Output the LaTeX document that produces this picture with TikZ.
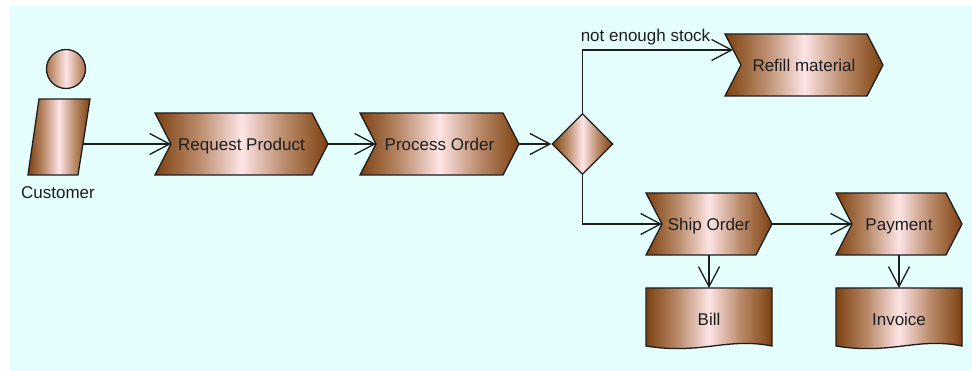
\documentclass[tikz,border=0pt]{standalone}
\usepackage{fontspec}
\setmainfont{Liberation Sans}
\usetikzlibrary{arrows.meta,shapes.geometric}
\definecolor{bgcol}{HTML}{E4FDFD}
\definecolor{inkcol}{HTML}{1E1E1E}
\definecolor{darkbrown}{HTML}{7D4111}
\definecolor{midbrown}{HTML}{B98A69}
\definecolor{softbrown}{HTML}{A9704A}
\definecolor{softmid}{HTML}{D3AB93}
\definecolor{paleskin}{HTML}{FDE4E6}
\pgfdeclarehorizontalshading{brownaxis}{100bp}{
  color(0bp)=(darkbrown); color(25bp)=(darkbrown); color(37.5bp)=(midbrown);
  color(50bp)=(paleskin); color(62.5bp)=(midbrown); color(75bp)=(darkbrown); color(100bp)=(darkbrown)}
\pgfdeclarehorizontalshading{softaxis}{100bp}{
  color(0bp)=(softbrown); color(25bp)=(softbrown); color(37.5bp)=(softmid);
  color(50bp)=(paleskin); color(62.5bp)=(softmid); color(75bp)=(softbrown); color(100bp)=(softbrown)}
\tikzset{
  shapeoutline/.style={draw=inkcol,line width=1.3pt,line join=miter},
  brownfill/.style={shading=brownaxis},
  softfill/.style={shading=softaxis},
  labeltext/.style={font=\fontsize{17}{19}\selectfont,text=inkcol,inner sep=0pt,text height=11.5pt,text depth=0pt},
  flowline/.style={draw=inkcol,line width=1.3pt,-{Straight Barb[length=20pt,width=21pt,line width=1.3pt]}}
}
\newcommand{\stepshape}[6]{% name, left, right, top, bottom, text
  \path[shapeoutline,brownfill] (#2,#4) -- ({#3-16},#4) -- (#3,{(#4+#5)/2}) -- ({#3-16},#5) -- (#2,#5) -- ({#2+16},{(#4+#5)/2}) -- cycle;
  \node[labeltext] (#1) at ({(#2+#3)/2},{(#4+#5)/2+0.7}) {#6};
  \coordinate (#1-in) at ({#2+16},{(#4+#5)/2});
  \coordinate (#1-out) at (#3,{(#4+#5)/2});
}
\newcommand{\docshape}[6]{% name, left, right, top, bottom, text
  \path[shapeoutline,brownfill] (#2,#4) -- (#3,#4) -- (#3,#5) .. controls ({#3-45},{#5-9}) and ({#2+55},{#5+9}) .. (#2,#5) -- cycle;
  \node[labeltext] (#1) at ({(#2+#3)/2},{(#4+#5)/2+3}) {#6};
  \coordinate (#1-top) at ({(#2+#3)/2},#4);
}
\begin{document}
\begin{tikzpicture}[x=1pt,y=-1pt]
\useasboundingbox (0,0) rectangle (972,371);
\fill[white] (0,0) rectangle (972,371);
\fill[bgcol] (10,6) rectangle (972,371);

% Customer
\node[circle,shapeoutline,softfill,minimum size=39pt,inner sep=0pt] (head) at (66,69) {};
\path[shapeoutline,brownfill] (39,99) -- (90,99) -- (78,175) -- (28,175) -- cycle;
\coordinate (body-out) at (83,144);
\node[labeltext] (customer) at (58,192.5) {Customer};

% Steps
\stepshape{request}{155}{328}{113}{175}{Request Product}
\stepshape{process}{360}{519}{113}{175}{Process Order}
\stepshape{refill}{725}{883}{34}{96}{Refill material}
\stepshape{ship}{646}{772}{193}{255}{Ship Order}
\stepshape{payment}{836}{962}{193}{255}{Payment}
\node[diamond,shapeoutline,brownfill,minimum width=61pt,minimum height=61pt,inner sep=0pt] (decision) at (582.5,144) {};

% Documents
\docshape{bill}{646}{772}{288}{346}{Bill}
\docshape{invoice}{836}{962}{288}{346}{Invoice}

% Connectors
\coordinate (refill-entry) at (733,50);
\coordinate (ship-bottom) at (709,255);
\coordinate (payment-bottom) at (899,255);
\draw[flowline] (body-out) -- (request-in);
\draw[flowline] (request-out) -- (process-in);
\draw[flowline] (process-out) -- (decision.west);
\draw[flowline] (decision.north) |- (refill-entry);
\draw[flowline] (decision.south) |- (ship-in);
\draw[flowline] (ship-out) -- (payment-in);
\draw[flowline] (ship-bottom) -- (bill-top);
\draw[flowline] (payment-bottom) -- (invoice-top);

\node[labeltext] (stocklabel) at (645.5,36) {not enough stock};
\end{tikzpicture}
\end{document}
